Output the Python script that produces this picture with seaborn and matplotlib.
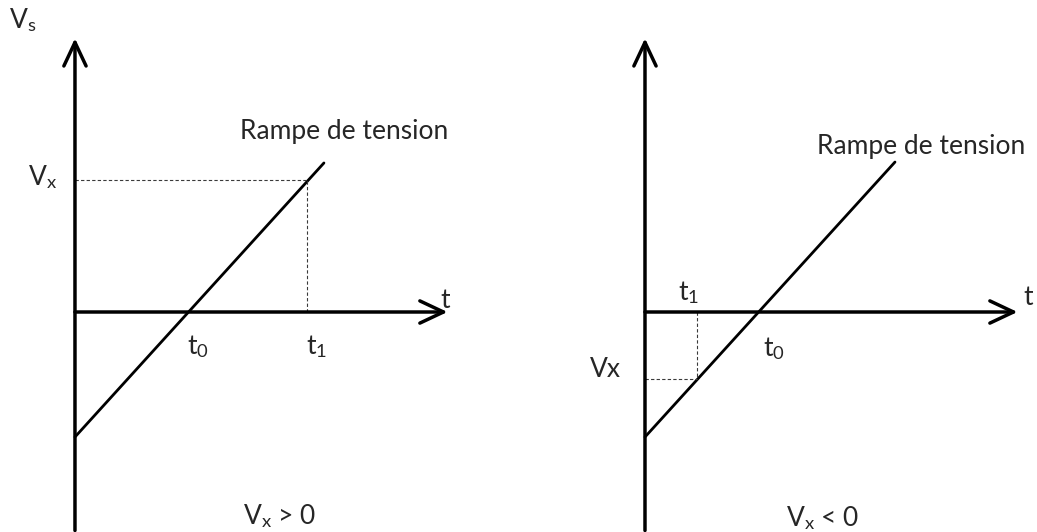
import matplotlib
matplotlib.use("Agg")
import matplotlib.pyplot as plt
import numpy as np
import pandas as pd
import seaborn as sns

# ramp de tension (t, Vs) for each case, same ramp both sides
ramp_t_pos = [0.0, 2.165]
ramp_v_pos = [-1.087, 1.296]
ramp_t_neg = [0.0, 2.174]
ramp_v_neg = [-1.087, 1.304]

# marked points (t1, Vx)
t1_pos, vx_pos = 2.02, 1.15
t1_neg, vx_neg = 0.452, -0.583

# axis extents
v_min, v_max = -1.90, 2.38
t_max = 3.24

labels_pos = {
    "vs": (r"V$_{\mathrm{s}}$", -0.452, 2.54),
    "vx": (r"V$_{\mathrm{x}}$", -0.278, 1.17),
    "t": ("t", 3.22, 0.10),
    "t0": (r"t$_{\mathrm{0}}$", 1.07, -0.30),
    "t1": (r"t$_{\mathrm{1}}$", 2.10, -0.30),
    "cond": (r"V$_{\mathrm{x}}$ > 0", 1.78, -1.77),
}
labels_neg = {
    "vx": ("Vx", -0.34, -0.50),
    "t": ("t", 3.33, 0.13),
    "t0": (r"t$_{\mathrm{0}}$", 1.12, -0.32),
    "t1": (r"t$_{\mathrm{1}}$", 0.377, 0.17),
    "cond": (r"V$_{\mathrm{x}}$ < 0", 1.54, -1.79),
}
ramp_label_pos = (2.34, 1.50)
ramp_label_neg = (2.40, 1.37)


def draw_panel(ax, ramp_t, ramp_v, t1, vx, labels, ramp_label, xlim):
    ax.set_xlim(*xlim)
    ax.set_ylim(-1.913, 2.713)
    ax.axis("off")

    arrow = dict(arrowstyle="->,head_length=0.85,head_width=0.4", lw=2.5,
                 color="black", shrinkA=0, shrinkB=0, mutation_scale=20)
    ax.annotate("", xy=(0, v_max), xytext=(0, v_min), arrowprops=arrow)
    ax.annotate("", xy=(t_max, 0), xytext=(0, 0), arrowprops=arrow)

    df = pd.DataFrame({"t": ramp_t, "V": ramp_v})
    sns.lineplot(data=df, x="t", y="V", ax=ax, color="black", lw=2.0)

    ax.plot([0, t1], [vx, vx], color="#3a3a3a", lw=0.8, ls=(0, (3, 2)))
    ax.plot([t1, t1], [0, vx], color="#3a3a3a", lw=0.8, ls=(0, (3, 2)))

    for txt, x, y in labels.values():
        ax.text(x, y, txt, ha="center", va="center", fontsize=19)
    ax.text(ramp_label[0], ramp_label[1], "Rampe de tension",
            ha="center", va="baseline", fontsize=19)


def main():
    sns.set_theme(style="white")
    plt.rcParams["font.family"] = ["Lato", "DejaVu Sans"]
    plt.rcParams["mathtext.fontset"] = "custom"
    plt.rcParams["mathtext.rm"] = "Lato"
    plt.rcParams["mathtext.it"] = "Lato:italic"

    fig = plt.figure(figsize=(10.37, 5.32), dpi=100)
    ax1 = fig.add_axes([0, 0, 0.5, 1])
    ax2 = fig.add_axes([0.5, 0, 0.5, 1])

    draw_panel(ax1, ramp_t_pos, ramp_v_pos, t1_pos, vx_pos, labels_pos,
               ramp_label_pos, (-0.652, 3.857))
    draw_panel(ax2, ramp_t_neg, ramp_v_neg, t1_neg, vx_neg, labels_neg,
               ramp_label_neg, (-1.100, 3.409))

    fig.savefig("out.png", dpi=100, facecolor="white")


if __name__ == "__main__":
    main()
